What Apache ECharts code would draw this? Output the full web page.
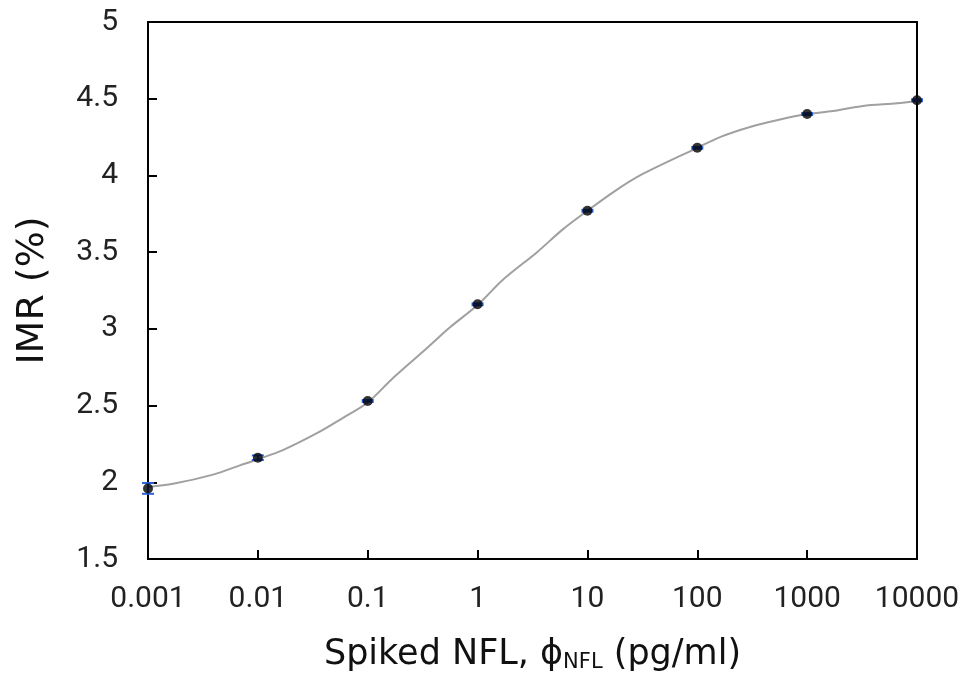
<!DOCTYPE html>
<html>
<head>
<meta charset="utf-8">
<script src="https://cdn.jsdelivr.net/npm/echarts@6/dist/echarts.min.js"></script>
<style>
html,body{margin:0;padding:0;background:#fff;}
#chart{width:972px;height:674px;}
</style>
</head>
<body>
<div id="chart"></div>
<script>
// Tick labels of the log x axis
const xTickLabels = ['0.001','0.01','0.1','1','10','100','1000','10000'];
// Measured points
const concentrations = [0.001, 0.01, 0.1, 1, 10, 100, 1000, 10000];
const imrValues = [1.96, 2.16, 2.53, 3.16, 3.77, 4.18, 4.40, 4.49];
const imrErrors = [0.035, 0.015, 0.006, 0.006, 0.006, 0.006, 0.006, 0.006];
// Fitted curve
const fitX = [0.001, 0.00169, 0.00391, 0.00687, 0.01, 0.0169, 0.0345, 0.0596, 0.1, 0.17, 0.347, 0.561, 1, 1.7, 3.48, 6.0, 10, 17.1, 30.1, 100, 161, 302, 566, 1000, 1718, 3220, 6580, 10000];
const fitY = [1.97, 1.99, 2.05, 2.11, 2.15, 2.21, 2.32, 2.42, 2.52, 2.68, 2.875, 3.01, 3.155, 3.32, 3.50, 3.65, 3.77, 3.89, 4.00, 4.18, 4.25, 4.316, 4.365, 4.40, 4.42, 4.453, 4.47, 4.485];

const chart = echarts.init(document.getElementById('chart'));
const tickFont = 'Roboto';
const titleFont = 'DejaVu Sans';

chart.setOption({
  animation: false,
  backgroundColor: '#ffffff',
  grid: {left: 148, right: 55, top: 22, bottom: 115, show: true, borderColor: '#000', borderWidth: 2,
         containLabel: false, outerBoundsMode: 'none'},
  xAxis: {
    type: 'log', logBase: 10, min: 0.001, max: 10000,
    axisLine: {lineStyle: {color: '#000', width: 2}},
    axisTick: {inside: true, length: 9, lineStyle: {color: '#000', width: 2}},
    minorTick: {show: false},
    splitLine: {show: false},
    axisLabel: {
      color: '#222', fontFamily: tickFont, fontSize: 30, margin: 25,
      formatter: function (v) {
        const i = Math.round(Math.log10(v)) + 3;
        return xTickLabels[i] !== undefined ? xTickLabels[i] : '';
      }
    },
    name: '{n|Spiked NFL, ϕ}{s|NFL}{n| (pg/ml)}',
    nameLocation: 'middle', nameGap: 77,
    nameTextStyle: {
      rich: {
        n: {fontFamily: titleFont, fontSize: 35, color: '#111'},
        s: {fontFamily: titleFont, fontSize: 21, color: '#111', verticalAlign: 'bottom', padding: [16, 0, 0, 0]}
      }
    }
  },
  yAxis: {
    type: 'value', min: 1.5, max: 5, interval: 0.5,
    axisLine: {show: true, lineStyle: {color: '#000', width: 2}},
    axisTick: {show: true, inside: true, length: 9, lineStyle: {color: '#000', width: 2}},
    splitLine: {show: false},
    axisLabel: {color: '#222', fontFamily: tickFont, fontSize: 30, margin: 30},
    name: 'IMR (%)', nameLocation: 'middle', nameGap: 96, nameRotate: 90,
    nameTextStyle: {fontFamily: titleFont, fontSize: 38, color: '#111'}
  },
  series: [
    {
      type: 'line', data: fitX.map((x, i) => [x, fitY[i]]),
      smooth: 0.3, showSymbol: false, symbol: 'none',
      lineStyle: {color: '#a0a0a0', width: 2}, z: 2
    },
    {
      type: 'custom',
      data: concentrations.map((x, i) => [x, imrValues[i] - imrErrors[i], imrValues[i] + imrErrors[i]]),
      renderItem: function (params, api) {
        const lo = api.coord([api.value(0), api.value(1)]);
        const hi = api.coord([api.value(0), api.value(2)]);
        const w = 6;
        const style = {stroke: '#2a62e0', lineWidth: 2};
        return {
          type: 'group',
          children: [
            {type: 'line', shape: {x1: lo[0], y1: lo[1], x2: hi[0], y2: hi[1]}, style: style},
            {type: 'line', shape: {x1: lo[0] - w, y1: lo[1], x2: lo[0] + w, y2: lo[1]}, style: style},
            {type: 'line', shape: {x1: hi[0] - w, y1: hi[1], x2: hi[0] + w, y2: hi[1]}, style: style}
          ]
        };
      },
      z: 3
    },
    {
      type: 'scatter', data: concentrations.map((x, i) => [x, imrValues[i]]),
      symbol: 'circle', symbolSize: 10,
      itemStyle: {color: '#000'}, z: 4
    }
  ]
});
</script>
</body>
</html>
